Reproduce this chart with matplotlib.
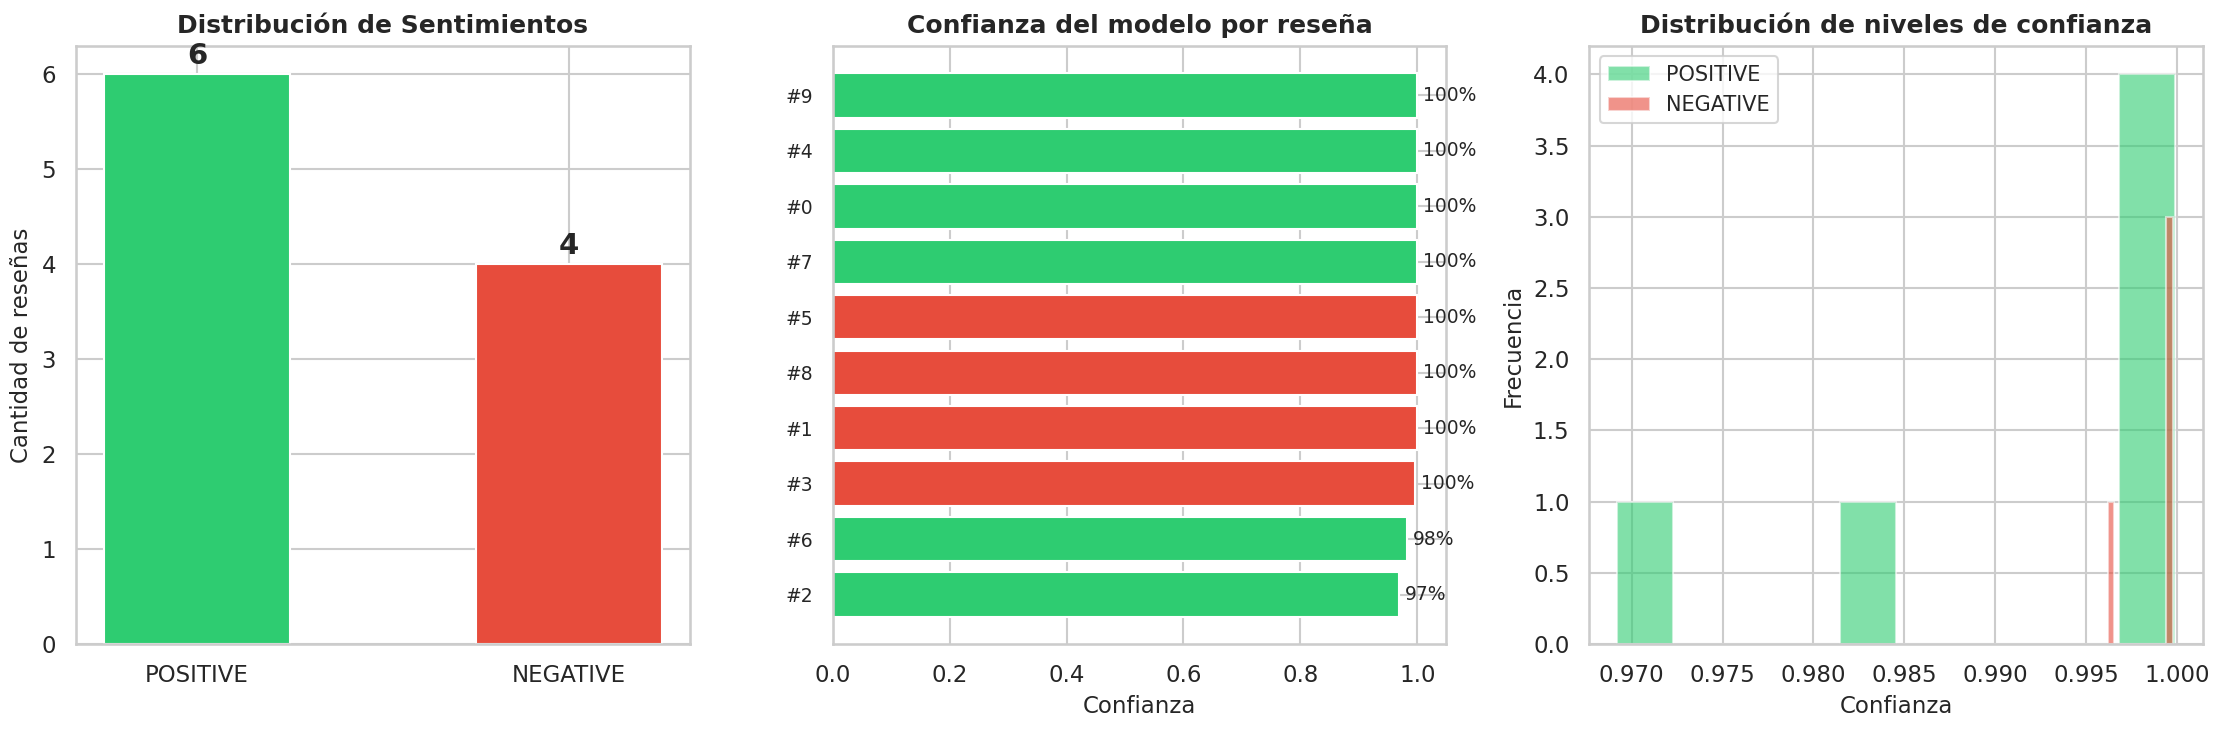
import matplotlib
matplotlib.use("Agg")
import matplotlib.pyplot as plt
import seaborn as sns
import numpy as np

# review results
review_ids = [0, 1, 2, 3, 4, 5, 6, 7, 8, 9]
sentiments = ["POSITIVE", "NEGATIVE", "POSITIVE", "NEGATIVE", "POSITIVE",
              "NEGATIVE", "POSITIVE", "POSITIVE", "NEGATIVE", "POSITIVE"]
confidences = [0.99985, 0.9995, 0.9692, 0.9962, 0.99988,
               0.99978, 0.9830, 0.99982, 0.9997, 0.99990]

categories = ["POSITIVE", "NEGATIVE"]
colors = {"POSITIVE": "#2ecc71", "NEGATIVE": "#e74c3c"}

sns.set_theme(style="whitegrid")
plt.rcParams["axes.labelsize"] = 11
plt.rcParams["legend.fontsize"] = 10

fig, axes = plt.subplots(1, 3, figsize=(2225 / 150, 729 / 150), dpi=150)
fig.subplots_adjust(left=0.0342, right=0.9901, bottom=0.1166, top=0.9369, wspace=0.233)

# 1) counts per sentiment
ax = axes[0]
counts = [sentiments.count(c) for c in categories]
ax.bar(categories, counts, color=[colors[c] for c in categories], width=0.5)
for i, v in enumerate(counts):
    ax.text(i, v + 0.05, str(v), ha="center", va="bottom", fontsize=14, fontweight="bold")
ax.set_title("Distribución de Sentimientos", fontsize=12, fontweight="bold")
ax.set_ylabel("Cantidad de reseñas")

# 2) confidence per review, sorted
ax = axes[1]
order = np.argsort(confidences, kind="stable")
y = np.arange(len(order))
vals = [confidences[i] for i in order]
ax.barh(y, vals, color=[colors[sentiments[i]] for i in order])
ax.set_yticks(y)
ax.set_yticklabels([f"#{review_ids[i]}" for i in order], fontsize=9)
for yi, v in zip(y, vals):
    ax.text(v + 0.01, yi, f"{v:.0%}", va="center", fontsize=9)
ax.set_title("Confianza del modelo por reseña", fontsize=12, fontweight="bold")
ax.set_xlabel("Confianza")

# 3) histogram of confidence
ax = axes[2]
for c in categories:
    data = [v for v, s in zip(confidences, sentiments) if s == c]
    ax.hist(data, bins=10, alpha=0.6, color=colors[c], label=c)
ax.legend(loc="upper left")
ax.set_title("Distribución de niveles de confianza", fontsize=12, fontweight="bold")
ax.set_xlabel("Confianza")
ax.set_ylabel("Frecuencia")

fig.savefig("out.png", dpi=150)
